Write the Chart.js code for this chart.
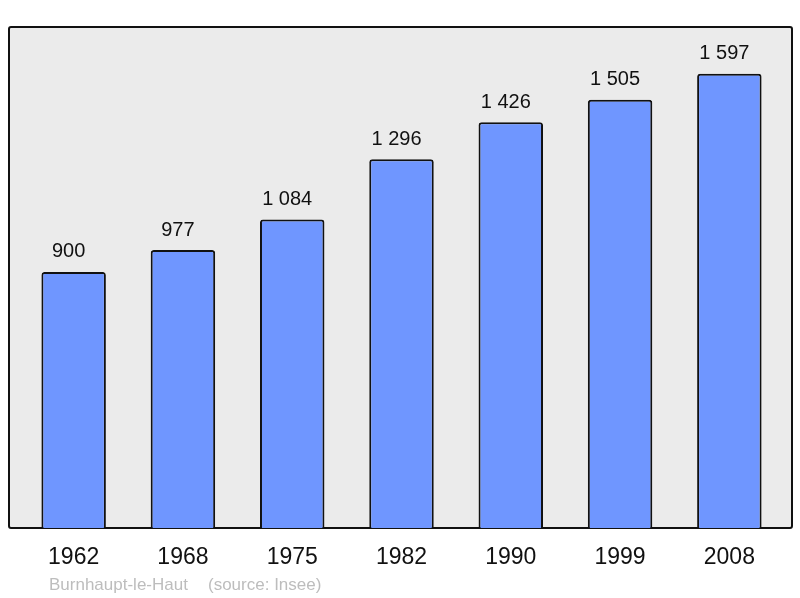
<!DOCTYPE html>
<html>
<head>
<meta charset="utf-8">
<script src="https://cdn.jsdelivr.net/npm/chart.js@4"></script>
<style>
  body { margin: 0; background: #fff; }
  #wrap { width: 800px; height: 598px; }
</style>
</head>
<body>
<div id="wrap"><canvas id="pop"></canvas></div>
<script>
var years = ['1962', '1968', '1975', '1982', '1990', '1999', '2008'];
var population = [900, 977, 1084, 1296, 1426, 1505, 1597];
var commune = 'Burnhaupt-le-Haut';
var source = '(source: Insee)';

function fmt(n) {
  return String(n).replace(/\B(?=(\d{3})+(?!\d))/g, ' ');
}

var frame = {
  id: 'frame',
  beforeDatasetsDraw: function (chart) {
    var a = chart.chartArea, c = chart.ctx;
    c.save();
    c.beginPath();
    c.roundRect(a.left - 10, a.top, a.right - a.left + 18, a.bottom - a.top, 2);
    c.fillStyle = '#ebebeb';
    c.fill();
    c.lineWidth = 2;
    c.strokeStyle = '#111';
    c.stroke();
    c.restore();
  },
  afterDatasetsDraw: function (chart) {
    var c = chart.ctx;
    var meta = chart.getDatasetMeta(0);
    c.save();
    c.font = '20px "Liberation Sans", Arial, sans-serif';
    c.fillStyle = '#111';
    c.textAlign = 'center';
    c.textBaseline = 'middle';
    meta.data.forEach(function (bar, i) {
      c.fillText(fmt(population[i]), bar.x - 5, bar.y - 20);
    });
    c.font = '17px "Liberation Sans", Arial, sans-serif';
    c.fillStyle = '#bdbdbd';
    c.textAlign = 'left';
    c.fillText(commune, 49, 585);
    c.fillText(source, 208, 585);
    c.restore();
  }
};

var ctx = document.getElementById('pop').getContext('2d');
var myChart = new Chart(ctx, {
  type: 'bar',
  data: {
    labels: years,
    datasets: [{
      data: population,
      backgroundColor: '#6f96ff',
      borderColor: '#111',
      borderWidth: 2,
      borderRadius: { topLeft: 3, topRight: 3 },
      borderSkipped: 'bottom',
      barPercentage: 0.59,
      categoryPercentage: 1,
    }],
  },
  options: {
    responsive: true,
    maintainAspectRatio: false,
    animation: false,
    layout: { padding: { top: 27, left: 19, right: 16, bottom: 0 } },
    plugins: { legend: { display: false }, tooltip: { enabled: false } },
    scales: {
      x: {
        grid: { display: false },
        border: { display: false },
        ticks: {
          color: '#111',
          padding: 8,
          font: { size: 23, family: '"Liberation Sans", Arial, sans-serif' },
        },
        afterFit: function (scale) { scale.height = 70; },
      },
      y: {
        display: false,
        min: 0,
        max: 1761,
      },
    },
  },
  plugins: [frame],
});
</script>
</body>
</html>
